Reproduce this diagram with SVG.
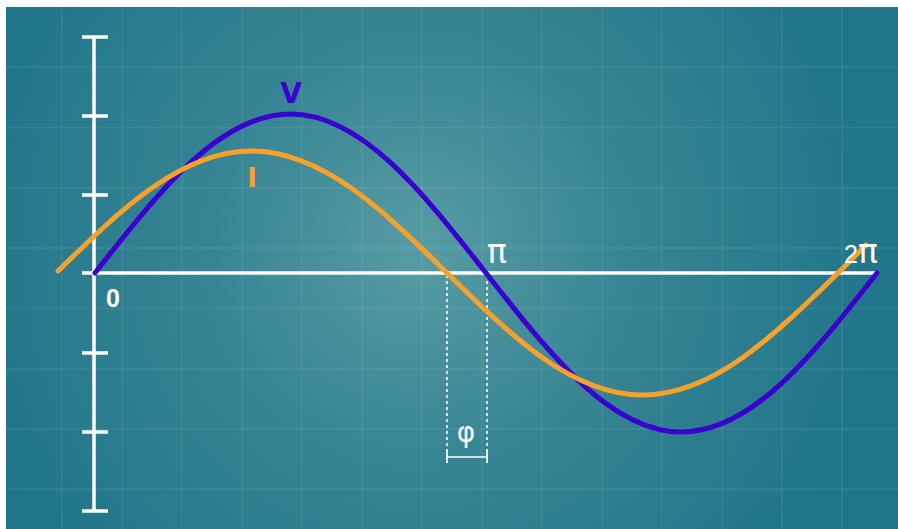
<svg xmlns="http://www.w3.org/2000/svg" width="898" height="529" viewBox="0 0 898 529">
<defs>
<radialGradient id="bg" gradientUnits="userSpaceOnUse" cx="420" cy="250" r="460">
<stop offset="0" stop-color="#579ca4"/>
<stop offset="0.45" stop-color="#378594"/>
<stop offset="1" stop-color="#21758a"/>
</radialGradient>
<style>
.grid{stroke:#ffffff;stroke-opacity:0.06;stroke-width:2;fill:none}
.axis{stroke:#ffffff;stroke-width:3.5;fill:none}
.tick{stroke:#ffffff;stroke-width:3.5;fill:none}
.wave{fill:none;stroke-width:5;stroke-linecap:round}
.v{stroke:#3a00d0}
.i{stroke:#f8a12a}
.dash{stroke:#ffffff;stroke-width:1.6;stroke-dasharray:3 3;fill:none}
.brk{stroke:#ffffff;stroke-width:1.6;fill:none}
</style>
</defs>
<rect x="0" y="0" width="898" height="529" fill="#ffffff"/>
<rect x="6" y="7" width="892" height="522" fill="url(#bg)"/>
<g id="grid">
<path class="grid" d="M62,7V529M122,7V529M182,7V529M242,7V529M302,7V529M362,7V529M422,7V529M482,7V529M542,7V529M602,7V529M662,7V529M722,7V529M782,7V529M842,7V529"/>
<path class="grid" d="M6,67H898M6,127.5H898M6,188H898M6,248H898M6,308.5H898M6,369H898M6,429H898M6,489H898"/>
</g>
<g id="y-axis">
<line class="axis" x1="94" y1="37" x2="94" y2="512"/>
<path class="tick" d="M82,37H108M82,116H108M82,195H108M82,353H108M82,432H108M82,511H108"/>
</g>
<g id="x-axis">
<line class="axis" x1="82" y1="273" x2="877" y2="273"/>
</g>
<g id="connectors">
<path class="dash" d="M447,275V463M487,275V463"/>
<path class="brk" d="M447,451V463M487,451V463M447,457H487"/>
</g>
<g id="curve-v">
<path class="wave v" d="M95,273 C158.76,191.54 219.75,114 290.5,114 C361.26,114 422.24,191.54 486,273 C549.76,354.46 610.75,432 681.5,432 C752.26,432 813.25,354.46 877,273"/>
<text x="291" y="103" text-anchor="middle" font-family="DejaVu Sans, sans-serif" font-weight="bold" font-size="28" fill="#3a00d0">V</text>
</g>
<g id="curve-i">
<path class="wave i" d="M58,271 C119.76,210.5 180.75,151 251.5,151 C322.26,151 383.24,210.5 447,273 C510.76,335.5 571.75,395 642.5,395 C713.26,395 774.25,335.5 838,273 L866,245"/>
<text x="252" y="187" text-anchor="middle" font-family="DejaVu Sans, sans-serif" font-weight="bold" font-size="26" fill="#f8a12a">I</text>
</g>
<g id="labels" fill="#ffffff">
<text x="113" y="307" text-anchor="middle" font-family="Liberation Sans, Arial, sans-serif" font-weight="bold" font-size="25">0</text>
<text x="497" y="263" text-anchor="middle" font-family="DejaVu Sans, sans-serif" font-size="33">π</text>
<text x="861" y="263" text-anchor="middle" font-family="DejaVu Sans, sans-serif" font-size="33"><tspan font-family="Liberation Sans, Arial, sans-serif" font-size="25">2</tspan>π</text>
<text x="466" y="442" text-anchor="middle" font-family="DejaVu Sans, sans-serif" font-size="28">φ</text>
</g>
</svg>
